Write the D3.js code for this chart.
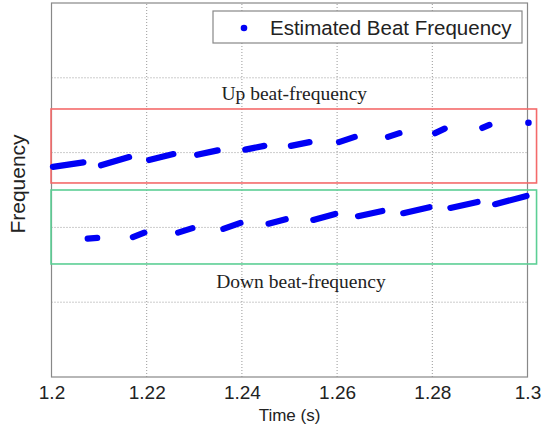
<!DOCTYPE html>
<html>
<head>
<meta charset="utf-8">
<script src="https://cdn.jsdelivr.net/npm/d3@7"></script>
<style>
  body { margin: 0; background: #fff; }
  svg { display: block; }
</style>
</head>
<body>
<div id="chart"></div>
<script>
// x ticks (time in seconds)
const xTicks = [1.2, 1.22, 1.24, 1.26, 1.28, 1.3];
const yTicks = [0, 1, 2, 3, 4, 5];

// up beat-frequency dashes (start/end of each run of estimates)
const upStartTime = [1.2003, 1.2104, 1.2205, 1.2306, 1.2407, 1.2503, 1.2604, 1.2707, 1.2806, 1.2905];
const upEndTime = [1.2067, 1.2163, 1.2256, 1.2349, 1.2447, 1.2542, 1.2637, 1.2731, 1.2826, 1.292];
const upStartFreq = [2.81, 2.83, 2.9, 2.97, 3.04, 3.09, 3.14, 3.21, 3.26, 3.33];
const upEndFreq = [2.87, 2.94, 2.98, 3.03, 3.09, 3.14, 3.21, 3.26, 3.32, 3.37];
const upLastPoint = [1.3002, 3.4];

// down beat-frequency dashes
const downStartTime = [1.2076, 1.2171, 1.2266, 1.2361, 1.2456, 1.255, 1.2644, 1.2739, 1.2838, 1.2932];
const downEndTime = [1.2096, 1.2195, 1.2296, 1.2397, 1.2492, 1.2596, 1.2695, 1.2794, 1.2895, 1.2998];
const downStartFreq = [1.85, 1.87, 1.93, 1.98, 2.05, 2.1, 2.15, 2.19, 2.26, 2.31];
const downEndFreq = [1.86, 1.93, 1.99, 2.06, 2.11, 2.18, 2.22, 2.27, 2.34, 2.42];

// annotation boxes [t0, t1, f0, f1]
const upBox = [1.1999, 1.3019, 2.594, 3.583];
const downBox = [1.1999, 1.3019, 1.511, 2.5];

const width = 543;
const height = 432;
const margin = { top: 3, right: 15.5, bottom: 55, left: 51.5 };

const svg = d3
  .select('#chart')
  .append('svg')
  .attr('width', width)
  .attr('height', height);

const xScale = d3
  .scaleLinear()
  .domain([1.2, 1.3])
  .range([margin.left, width - margin.right]);

const yScale = d3
  .scaleLinear()
  .domain([0, 5])
  .range([height - margin.bottom, margin.top]);

// grid
svg
  .append('g')
  .selectAll('line.vgrid')
  .data(xTicks.slice(1, -1))
  .enter()
  .append('line')
  .attr('x1', (d) => xScale(d))
  .attr('x2', (d) => xScale(d))
  .attr('y1', yScale(0))
  .attr('y2', yScale(5))
  .attr('stroke', '#999')
  .attr('stroke-width', 1)
  .attr('stroke-dasharray', '1,2');

svg
  .append('g')
  .selectAll('line.hgrid')
  .data(yTicks.slice(1, -1))
  .enter()
  .append('line')
  .attr('x1', xScale(1.2))
  .attr('x2', xScale(1.3))
  .attr('y1', (d) => yScale(d))
  .attr('y2', (d) => yScale(d))
  .attr('stroke', '#999')
  .attr('stroke-width', 1)
  .attr('stroke-dasharray', '1,2');

// plot frame
svg
  .append('rect')
  .attr('x', xScale(1.2))
  .attr('y', yScale(5))
  .attr('width', xScale(1.3) - xScale(1.2))
  .attr('height', yScale(0) - yScale(5))
  .attr('fill', 'none')
  .attr('stroke', '#888')
  .attr('stroke-width', 1.2);

// x axis labels
const xAxis = svg
  .append('g')
  .attr('transform', `translate(0,${yScale(0)})`)
  .call(d3.axisBottom(xScale).tickValues(xTicks).tickSize(0).tickPadding(9).tickFormat(d3.format('')));
xAxis.select('.domain').remove();
xAxis
  .selectAll('text')
  .attr('font-family', 'Liberation Sans, Arial, sans-serif')
  .attr('font-size', 19)
  .attr('fill', '#222');

svg
  .append('text')
  .attr('x', (xScale(1.2) + xScale(1.3)) / 2)
  .attr('y', 421)
  .attr('text-anchor', 'middle')
  .attr('font-family', 'Liberation Sans, Arial, sans-serif')
  .attr('font-size', 17)
  .attr('fill', '#222')
  .text('Time (s)');

svg
  .append('text')
  .attr('transform', 'translate(25,184) rotate(-90)')
  .attr('text-anchor', 'middle')
  .attr('font-family', 'Liberation Sans, Arial, sans-serif')
  .attr('font-size', 21)
  .attr('fill', '#222')
  .text('Frequency');

// annotation boxes
function drawBox(box, color) {
  svg
    .append('rect')
    .attr('x', xScale(box[0]))
    .attr('y', yScale(box[3]))
    .attr('width', xScale(box[1]) - xScale(box[0]))
    .attr('height', yScale(box[2]) - yScale(box[3]))
    .attr('fill', 'none')
    .attr('stroke', color)
    .attr('stroke-width', 1.6);
}
drawBox(upBox, '#f46a6a');
drawBox(downBox, '#5ccf95');

// dashes
const line = d3
  .line()
  .x((d) => xScale(d[0]))
  .y((d) => yScale(d[1]));

function drawDashes(t0, t1, f0, f1) {
  const segs = t0.map((t, i) => [
    [t, f0[i]],
    [t1[i], f1[i]]
  ]);
  svg
    .append('g')
    .selectAll('path')
    .data(segs)
    .enter()
    .append('path')
    .attr('d', line)
    .attr('fill', 'none')
    .attr('stroke', '#0000f5')
    .attr('stroke-width', 6.2)
    .attr('stroke-linecap', 'round');
}
drawDashes(upStartTime, upEndTime, upStartFreq, upEndFreq);
drawDashes(downStartTime, downEndTime, downStartFreq, downEndFreq);

svg
  .append('circle')
  .attr('cx', xScale(upLastPoint[0]))
  .attr('cy', yScale(upLastPoint[1]))
  .attr('r', 3.3)
  .attr('fill', '#0000f5');

// annotation labels
svg
  .append('text')
  .attr('x', xScale(1.2357))
  .attr('y', 100)
  .attr('font-family', 'Liberation Serif, Times New Roman, serif')
  .attr('font-size', 19.5)
  .attr('fill', '#222')
  .text('Up beat-frequency');

svg
  .append('text')
  .attr('x', xScale(1.2346))
  .attr('y', 288)
  .attr('font-family', 'Liberation Serif, Times New Roman, serif')
  .attr('font-size', 19.5)
  .attr('fill', '#222')
  .text('Down beat-frequency');

// legend
const legend = svg.append('g').attr('transform', 'translate(213,11)');
legend
  .append('rect')
  .attr('width', 309)
  .attr('height', 32)
  .attr('fill', '#fff')
  .attr('stroke', '#888')
  .attr('stroke-width', 1.2);
legend
  .append('circle')
  .attr('cx', 31)
  .attr('cy', 17)
  .attr('r', 3.3)
  .attr('fill', '#0000f5');
legend
  .append('text')
  .attr('x', 57)
  .attr('y', 24)
  .attr('font-family', 'Liberation Sans, Arial, sans-serif')
  .attr('font-size', 20.5)
  .attr('fill', '#222')
  .text('Estimated Beat Frequency');
</script>
</body>
</html>
